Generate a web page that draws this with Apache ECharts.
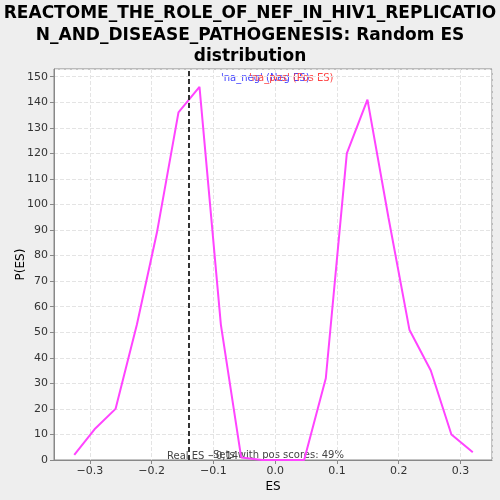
<!DOCTYPE html>
<html>
<head>
<meta charset="utf-8">
<script src="https://cdn.jsdelivr.net/npm/echarts@6/dist/echarts.min.js"></script>
<style>
  html, body { margin: 0; padding: 0; background: #eeeeee; }
  #chart-container { width: 500px; height: 500px; }
</style>
</head>
<body>
<div id="chart-container"></div>
<script>
var esValues = [-0.3252, -0.2924, -0.2584, -0.2238, -0.1914, -0.1565, -0.1225, -0.0879, -0.0550, -0.0210,
  0.0129, 0.0469, 0.0820, 0.1160, 0.1494, 0.1833, 0.2173, 0.2519, 0.2853, 0.3199];
var pesValues = [2, 12, 20, 53, 89, 136, 146, 53, 1, 0,
  0, 0, 32, 120, 141, 95, 51, 35, 10, 3];
var realES = -0.136;
var titleText = 'REACTOME_THE_ROLE_OF_NEF_IN_HIV1_REPLICATIO\nN_AND_DISEASE_PATHOGENESIS: Random ES\ndistribution';

var dom = document.getElementById('chart-container');
var myChart = echarts.init(dom, null, { renderer: 'canvas' });

var points = esValues.map(function (x, i) { return [x, pesValues[i]]; });

var option = {
  backgroundColor: '#eeeeee',
  animation: false,
  grid: {
    left: 54, right: 8, top: 69, bottom: 40,
    outerBoundsMode: 'none',
    show: true, backgroundColor: '#ffffff', borderColor: '#888888', borderWidth: 1
  },
  xAxis: {
    type: 'value',
    min: -0.358, max: 0.351,
    name: 'ES', nameLocation: 'middle', nameGap: 21,
    nameMoveOverlap: false,
    nameTextStyle: { fontFamily: 'DejaVu Sans', fontSize: 12, color: '#000' },
    axisLine: { onZero: false, lineStyle: { color: '#888888' } },
    axisTick: { show: true, length: 4, lineStyle: { color: '#888888' } },
    axisLabel: {
      showMinLabel: false, showMaxLabel: false,
      fontFamily: 'DejaVu Sans', fontSize: 11, color: '#333', margin: 6,
      formatter: function (v) { return v.toFixed(1).replace('-', '\u2212'); }
    },
    splitLine: { show: true, lineStyle: { color: '#e4e4e4', type: 'dashed' } }
  },
  yAxis: {
    type: 'value',
    min: 0, max: 153, interval: 10,
    name: 'P(ES)', nameLocation: 'middle', nameGap: 27,
    nameMoveOverlap: false,
    nameTextStyle: { fontFamily: 'DejaVu Sans', fontSize: 12, color: '#000' },
    axisLine: { show: true, onZero: false, lineStyle: { color: '#888888' } },
    axisTick: { show: true, length: 4, lineStyle: { color: '#888888' } },
    axisLabel: {
      showMaxLabel: false,
      fontFamily: 'DejaVu Sans', fontSize: 11, color: '#333', margin: 6
    },
    splitLine: { show: true, lineStyle: { color: '#e4e4e4', type: 'dashed' } }
  },
  series: [
    {
      type: 'line',
      data: points,
      showSymbol: false,
      lineStyle: { color: '#ff44ff', width: 2 },
      itemStyle: { color: '#ff44ff' },
      markLine: {
        silent: true,
        symbol: 'none',
        label: { show: false },
        lineStyle: { color: '#333333', type: [5, 3], width: 2 },
        data: [{ xAxis: realES }]
      }
    }
  ],
  graphic: [
    {
      type: 'text', x: 250, y: 3,
      style: {
        text: titleText, align: 'center', verticalAlign: 'top',
        fontFamily: 'DejaVu Sans', fontSize: 17, fontWeight: 'bold', fill: '#000', lineHeight: 21.5
      }
    },
    {
      type: 'text', left: 221, top: 73,
      style: { text: "'na_neg' (Neg ES)", fontFamily: 'DejaVu Sans', fontSize: 10, fill: '#4444ff' }
    },
    {
      type: 'text', left: 249, top: 73,
      style: { text: "'na_pos' (Pos ES)", fontFamily: 'DejaVu Sans', fontSize: 10, fill: '#ff4444' }
    },
    {
      type: 'text', left: 167, top: 451,
      style: { text: 'Real ES \u22120,14', fontFamily: 'DejaVu Sans', fontSize: 10, fill: '#444' }
    },
    {
      type: 'text', left: 213, top: 450,
      style: { text: 'Sets with pos scores: 49%', fontFamily: 'DejaVu Sans', fontSize: 10, fill: '#444' }
    }
  ]
};

myChart.setOption(option);
window.addEventListener('resize', myChart.resize);
</script>
</body>
</html>
